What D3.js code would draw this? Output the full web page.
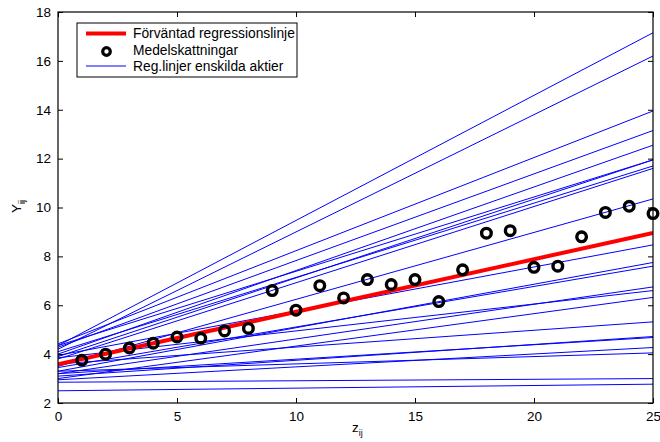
<!DOCTYPE html>
<meta charset="utf-8">
<style>
body {margin: 0; background: #fff;}
text {font-family: "Liberation Sans", Arial, sans-serif;}
</style>
<html>
<body>
<script src="https://d3js.org/d3.v7.min.js"></script>
<script>
var width = 660,
    height = 442;

// medelskattningar (z = 1..25)
var zVals = d3.range(1, 26);
var meanEst = [3.75, 4.0, 4.25, 4.45, 4.7, 4.65, 4.95, 5.05, 6.6, 5.8, 6.8, 6.3, 7.05,
               6.85, 7.05, 6.15, 7.45, 8.95, 9.05, 7.55, 7.6, 8.8, 9.8, 10.05, 9.75];

// förväntad regressionslinje: värde vid z=0 och z=25
var expLine = [3.58, 8.96];

// enskilda aktier: värde vid z=0 och z=25
var stockStart = [4.35, 4.2, 4.42, 4.28, 4.0, 4.35, 3.9, 4.1, 3.8, 3.5, 3.95, 3.3,
                  3.45, 3.2, 3.85, 3.0, 3.6, 3.1, 3.2, 2.95, 3.3, 2.85, 2.5];
var stockEnd = [17.15, 16.2, 13.95, 13.15, 12.55, 11.95, 11.95, 11.7, 11.6, 10.35, 8.47, 7.75,
                7.6, 6.75, 6.6, 6.32, 5.32, 4.72, 4.68, 4.27, 4.05, 3.0, 2.77];

var xTicks = [0, 5, 10, 15, 20, 25];
var yTicks = [2, 4, 6, 8, 10, 12, 14, 16, 18];

var legendLabels = ["Förväntad regressionslinje", "Medelskattningar", "Reg.linjer enskilda aktier"];

var margin = {left: 58, right: 7, top: 12, bottom: 39};

var svg = d3.select("body").append("svg")
    .attr("width", width)
    .attr("height", height);

var x = d3.scaleLinear().domain([0, 25]).range([margin.left, width - margin.right]);
var y = d3.scaleLinear().domain([2, 18]).range([height - margin.bottom, margin.top]);

var defs = svg.append("defs");
defs.append("clipPath").attr("id", "clip")
  .append("rect")
    .attr("x", x(0)).attr("y", y(18))
    .attr("width", x(25) - x(0)).attr("height", y(2) - y(18));

var plot = svg.append("g").attr("clip-path", "url(#clip)");

// blå linjer
plot.selectAll("line.stock")
  .data(stockStart)
  .enter().append("line")
    .attr("class", "stock")
    .attr("x1", x(0))
    .attr("y1", function(d) { return y(d); })
    .attr("x2", x(25))
    .attr("y2", function(d, i) { return y(stockEnd[i]); })
    .attr("stroke", "#0000ff")
    .attr("stroke-width", 1);

// röd linje
plot.append("line")
    .attr("x1", x(0)).attr("y1", y(expLine[0]))
    .attr("x2", x(25)).attr("y2", y(expLine[1]))
    .attr("stroke", "#ff0000")
    .attr("stroke-width", 4);

// cirklar
svg.selectAll("circle.mean")
  .data(meanEst)
  .enter().append("circle")
    .attr("class", "mean")
    .attr("cx", function(d, i) { return x(zVals[i]); })
    .attr("cy", function(d) { return y(d); })
    .attr("r", 4.8)
    .attr("fill", "none")
    .attr("stroke", "#000")
    .attr("stroke-width", 3.4);

// axlar
var tickLen = 5;
var xAxisB = d3.axisBottom(x).tickValues(xTicks).tickSizeInner(-tickLen).tickSizeOuter(0).tickPadding(8);
var xAxisT = d3.axisTop(x).tickValues(xTicks).tickSizeInner(-tickLen).tickSizeOuter(0).tickFormat("");
var yAxisL = d3.axisLeft(y).tickValues(yTicks).tickSizeInner(-tickLen).tickSizeOuter(0).tickPadding(7);
var yAxisR = d3.axisRight(y).tickValues(yTicks).tickSizeInner(-tickLen).tickSizeOuter(0).tickFormat("");

function styleAxis(g) {
  g.select(".domain").remove();
  g.selectAll(".tick line").attr("stroke", "#000");
  g.selectAll(".tick text").attr("fill", "#000").style("font-size", "13.5px")
    .style("font-family", "'Liberation Sans', Arial, sans-serif");
}

svg.append("g").attr("transform", "translate(0," + y(2) + ")").call(xAxisB).call(styleAxis);
svg.append("g").attr("transform", "translate(0," + y(18) + ")").call(xAxisT).call(styleAxis);
svg.append("g").attr("transform", "translate(" + x(0) + ",0)").call(yAxisL).call(styleAxis);
svg.append("g").attr("transform", "translate(" + x(25) + ",0)").call(yAxisR).call(styleAxis);

svg.append("rect")
    .attr("x", x(0)).attr("y", y(18))
    .attr("width", x(25) - x(0)).attr("height", y(2) - y(18))
    .attr("fill", "none")
    .attr("stroke", "#000")
    .attr("stroke-width", 1.2);

// axeltitlar
var xl = svg.append("text")
    .attr("x", 352).attr("y", 432)
    .style("font-size", "13.5px");
xl.append("tspan").text("z");
xl.append("tspan").attr("dy", 4).style("font-size", "9px").text("ij");

var yl = svg.append("text")
    .attr("transform", "translate(21,213) rotate(-90)")
    .style("font-size", "13.5px");
yl.append("tspan").text("Y");
yl.append("tspan").attr("dy", 4).style("font-size", "9px").text("ij");

// legend
var leg = svg.append("g").attr("transform", "translate(77,23)");
leg.append("rect")
    .attr("width", 220).attr("height", 54)
    .attr("fill", "#fff")
    .attr("stroke", "#000")
    .attr("stroke-width", 1);

leg.append("line")
    .attr("x1", 9).attr("x2", 49).attr("y1", 10.5).attr("y2", 10.5)
    .attr("stroke", "#ff0000").attr("stroke-width", 4);
leg.append("circle")
    .attr("cx", 29.5).attr("cy", 28.5).attr("r", 3.8)
    .attr("fill", "none").attr("stroke", "#000").attr("stroke-width", 3.2);
leg.append("line")
    .attr("x1", 9).attr("x2", 49).attr("y1", 43).attr("y2", 43)
    .attr("stroke", "#0000ff").attr("stroke-width", 1);

leg.selectAll("text.lab")
  .data(legendLabels)
  .enter().append("text")
    .attr("class", "lab")
    .attr("x", 56)
    .attr("y", function(d, i) { return 15 + i * 16.5; })
    .style("font-size", "13.8px")
    .text(function(d) { return d; });
</script>
</body>
</html>
